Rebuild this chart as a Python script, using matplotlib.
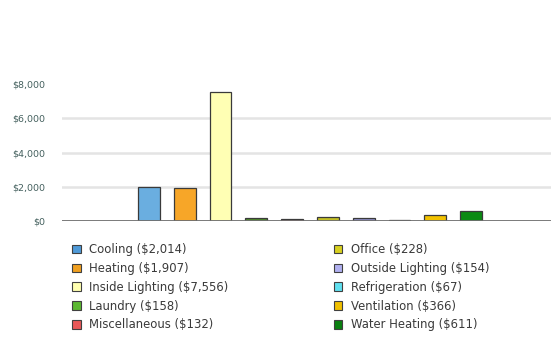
import matplotlib
matplotlib.use("Agg")
import matplotlib.pyplot as plt
from matplotlib.patches import Patch

# end-use costs ($)
categories = ["Cooling", "Heating", "Inside Lighting", "Laundry", "Miscellaneous",
              "Office", "Outside Lighting", "Refrigeration", "Ventilation", "Water Heating"]
costs = [2014, 1907, 7556, 158, 132, 228, 154, 67, 366, 611]
bar_colors = ["#6aaee0", "#f7a628", "#ffffb4", "#4f8a2c", "#a8545a",
              "#c4c026", "#8c8cc4", "#5a6a74", "#f2c200", "#0a8a12"]
legend_colors = ["#4f9ad8", "#f0a020", "#ffffb0", "#5cb832", "#e85858",
                 "#d8d020", "#b0b0f0", "#60e0f0", "#f0c000", "#0a8010"]
yticks = [0, 2000, 4000, 6000, 8000]
ytick_labels = ["$0", "$2,000", "$4,000", "$6,000", "$8,000"]

fig = plt.figure(figsize=(5.51, 3.43), dpi=100)
ax = fig.add_axes([0.1125, 0.3557, 0.8875, 0.3993])

x = list(range(len(categories)))
ax.bar(x, costs, width=0.61, color=bar_colors, edgecolor="#3a3a3a", linewidth=0.9, zorder=3)
ax.set_xlim(-2.43, 11.23)
ax.set_ylim(0, 8000)

for v in yticks[1:-1]:
    ax.axhline(v, color="#e4e4e4", lw=1.8, zorder=1)
ax.axhline(0, color="#707070", lw=1.3, zorder=4)

ax.set_yticks(yticks)
ax.set_yticklabels(ytick_labels, fontsize=6.8, color="#44605e")
ax.tick_params(axis="y", length=0, pad=12)
ax.set_xticks([])
for s in ax.spines.values():
    s.set_visible(False)

labels = [f"{c} (${v:,})" for c, v in zip(categories, costs)]
handles = [Patch(facecolor=c, edgecolor="#404040", linewidth=0.8) for c in legend_colors]
kw = dict(frameon=False, fontsize=8.4, handlelength=0.75, handleheight=0.75,
          handletextpad=0.7, labelspacing=0.5, borderaxespad=0, labelcolor="#3a3a3a")
fig.legend(handles[:5], labels[:5], loc="upper left", bbox_to_anchor=(0.122, 0.305), **kw)
fig.legend(handles[5:], labels[5:], loc="upper left", bbox_to_anchor=(0.597, 0.305), **kw)

fig.savefig("out.png", dpi=100)
